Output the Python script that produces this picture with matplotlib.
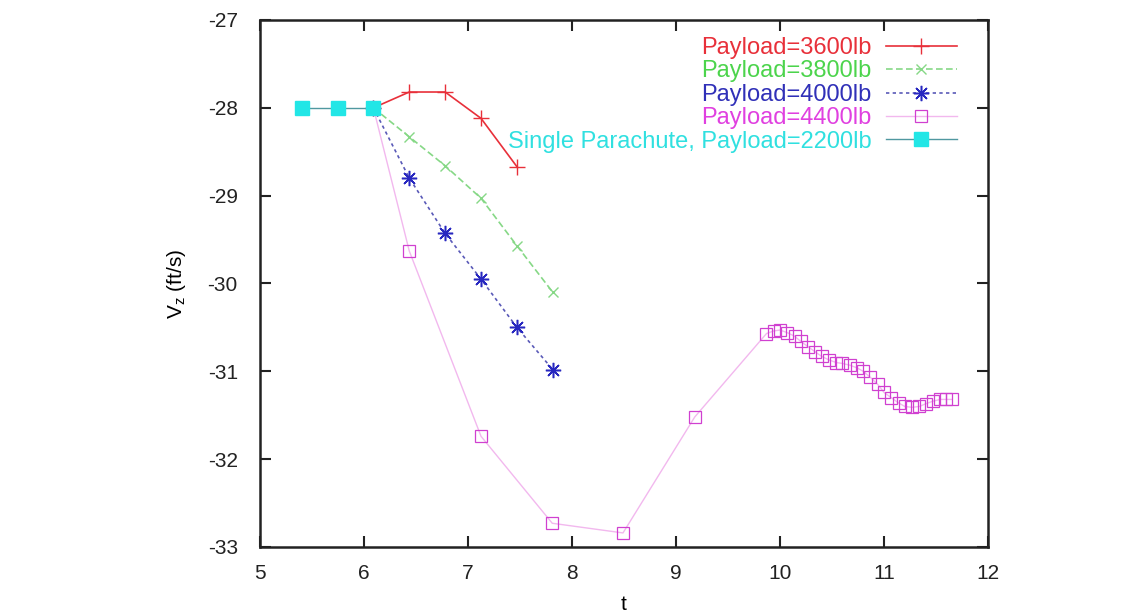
import matplotlib
matplotlib.use("Agg")
import matplotlib.pyplot as plt

plt.rcParams['font.family'] = ['Liberation Sans', 'DejaVu Sans']
plt.rcParams['axes.unicode_minus'] = False

# Data
t_single = [5.40, 5.745, 6.09]
v_single = [-28.0, -28.0, -28.0]

t_3600 = [6.09, 6.435, 6.78, 7.125, 7.47]
v_3600 = [-28.0, -27.82, -27.82, -28.12, -28.67]

t_3800 = [6.09, 6.435, 6.78, 7.125, 7.47, 7.815]
v_3800 = [-28.0, -28.33, -28.66, -29.03, -29.57, -30.10]

t_4000 = [6.09, 6.435, 6.78, 7.125, 7.47, 7.815]
v_4000 = [-28.0, -28.80, -29.43, -29.95, -30.50, -30.98]

t_4400 = [6.09, 6.435, 7.125, 7.81, 8.49, 9.18,
          9.87, 9.94, 10.00, 10.07, 10.14, 10.20, 10.27, 10.34, 10.40,
          10.47, 10.54, 10.60, 10.67, 10.74, 10.80, 10.87, 10.94, 11.00,
          11.07, 11.14, 11.20, 11.27, 11.34, 11.40, 11.47, 11.54, 11.60, 11.65]
v_4400 = [-28.0, -29.63, -31.74, -32.73, -32.84, -31.52,
          -30.57, -30.54, -30.53, -30.56, -30.60, -30.66, -30.72, -30.78, -30.83,
          -30.87, -30.90, -30.91, -30.93, -30.96, -31.00, -31.07, -31.15, -31.24,
          -31.30, -31.36, -31.40, -31.41, -31.40, -31.37, -31.34, -31.32, -31.32, -31.32]

labels = ['Payload=3600lb', 'Payload=3800lb', 'Payload=4000lb',
          'Payload=4400lb', 'Single Parachute, Payload=2200lb']

x_ticks = [5, 6, 7, 8, 9, 10, 11, 12]
y_ticks = [-33, -32, -31, -30, -29, -28, -27]

fig = plt.figure(figsize=(11.43, 6.15), dpi=100)
ax = fig.add_axes([0.2275, 0.1106, 0.6369, 0.8569])

ax.plot(t_3600, v_3600, color='#e8303a', lw=1.2, ls='-', marker='+', ms=11,
        mew=1.0, label=labels[0])
ax.plot(t_3800, v_3800, color='#86d886', lw=1.2, ls=(0, (4, 2)), marker='x', ms=7,
        mew=1.0, label=labels[1])
ax.plot(t_4000, v_4000, color='#5a5ab8', lw=1.2, ls=(0, (2, 2)), marker=(8, 2, 0),
        ms=11, mew=1.1, mfc='#2828c0', mec='#2828c0', label=labels[2])
ax.plot(t_4400, v_4400, color='#f2b8ee', lw=1.0, ls='-', marker='s', ms=9,
        mfc='none', mec='#d040d0', mew=0.9, label=labels[3])
ax.plot(t_single, v_single, color='#5098a0', lw=1.0, ls='-', marker='s', ms=10,
        mfc='#22e6e6', mec='#22e6e6', label=labels[4])

ax.set_xlim(5, 12)
ax.set_ylim(-33, -27)
ax.set_xticks(x_ticks)
ax.set_yticks(y_ticks)
ax.tick_params(direction='in', length=8, width=1.5, labelsize=15,
               top=True, right=True, colors='#222222')
ax.tick_params(axis='y', pad=16)
ax.tick_params(axis='x', pad=12)
for s in ax.spines.values():
    s.set_linewidth(1.8)
    s.set_color('#222222')

ax.set_xlabel('t', fontsize=15, labelpad=9)
ax.set_ylabel(r'V$_\mathregular{z}$ (ft/s)', fontsize=15, labelpad=14)

leg = ax.legend(loc='upper right', bbox_to_anchor=(0.973, 0.99), frameon=False,
                markerfirst=False, fontsize=17, handlelength=3.0,
                labelspacing=0.06, handletextpad=0.6, borderpad=0)
leg_colors = ['#e8303a', '#4cd44c', '#3030b8', '#e040e0', '#30e0e0']
for txt, c in zip(leg.get_texts(), leg_colors):
    txt.set_color(c)

fig.savefig('out.png', dpi=100)
